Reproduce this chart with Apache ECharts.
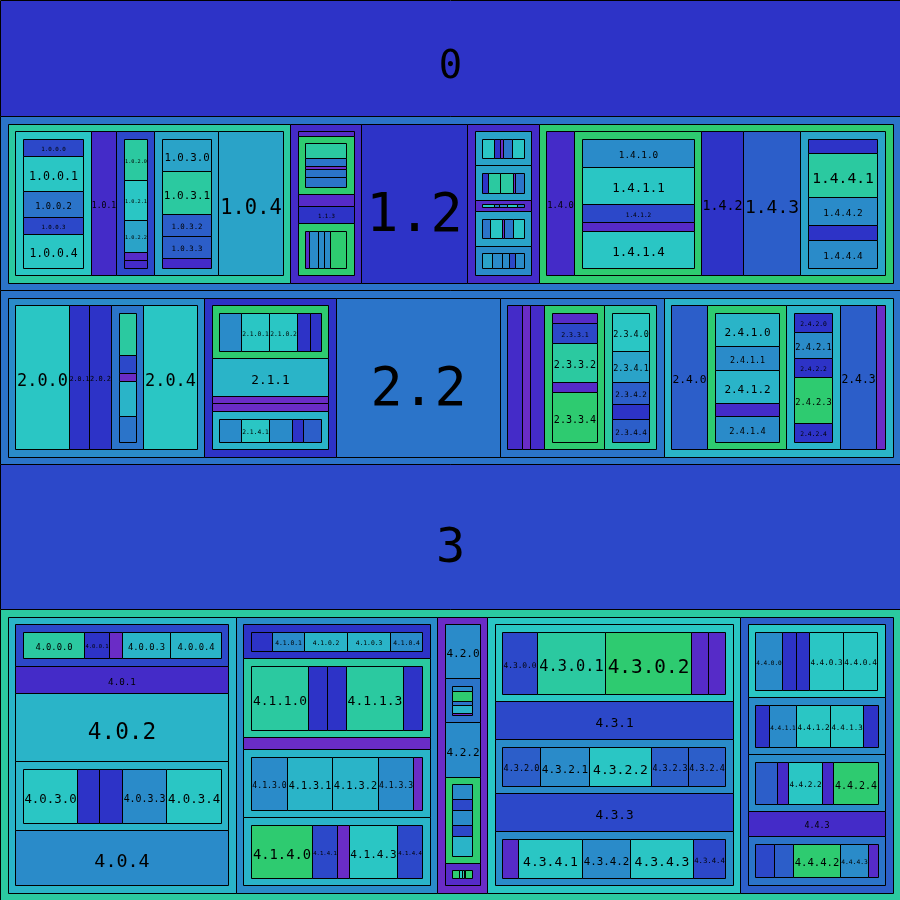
<!DOCTYPE html>
<html><head><meta charset="utf-8">
<script src="https://cdn.jsdelivr.net/npm/echarts@6/dist/echarts.min.js"></script>
<style>html,body{margin:0;padding:0;background:#fff}#chart{width:900px;height:900px}</style>
</head><body><div id="chart"></div>
<script>
// ---- DATA: leaf values; a number is a leaf, an array holds children 0..4 ----
const topNames = ['0', '1', '2', '3', '4'];
const tree0 = 12889;
const tree1 = [
  [[235.9, 469.1, 352.5, 230.5, 460.9], 591.4, [280.1, 273.3, 218.6, 54.7, 54.7], [365.3, 490.9, 251.2, 251.2, 114.2], 1495.8],
  [53.7, [204.7, 128.9, 38.7, 118.8, 134.6], 128.8, 182.5, [44.2, 133.9, 80.3, 80.3, 223.6]],
  2318.6,
  [[108.4, 52.9, 23.8, 76.7, 108.4], [47.7, 116.9, 119.6, 18.0, 75.6], [34.8, 14.1, 20.6, 29.1, 20.1], [74.7, 105.2, 18.0, 78.3, 101.6], [77.8, 75.6, 52.9, 47.6, 63.5]],
  [639.6, [629.7, 832.1, 404.8, 202.4, 832.1], 959.4, 1302.0, [216.7, 656.2, 421.4, 225.8, 421.4]]
];
const tree2 = [
  [1266.9, 488.7, 521.9, [251.1, 105.1, 46.7, 204.4, 151.8], 1266.9],
  [[228.5, 290.9, 290.9, 128.8, 114.3], 755.2, 139.1, 159.0, [163.9, 208.5, 167.6, 84.2, 131.1]],
  3582.6,
  [360.6, 192.3, 346.1, [113.5, 217.1, 440.8, 113.5, 547.7], [371.1, 300.4, 219.9, 148.2, 219.9]],
  [834.6, [470.8, 356.7, 470.8, 185.5, 370.9], [183.0, 260.0, 183.0, 443.0, 183.0], 843.9, 208.7]
];
const tree3 = 16111;
const tree4 = [
  [[413.0, 161.9, 86.6, 324.4, 335.7], 881.1, 2170.8, [610.6, 244.2, 248.7, 488.5, 610.6], 1755.8],
  [[118.4, 176.2, 240.6, 243.4, 179.5], [741.1, 245.3, 245.3, 748.9, 245.3], 338.1, [404.6, 500.1, 511.2, 400.1, 100.0], [682.4, 277.9, 133.4, 544.6, 277.9]],
  [377.4, [58.2, 98.8, 47.2, 81.3, 22.0], 380.2, [127.3, 95.9, 124.8, 95.9, 161.3], [54.2, 17.1, 17.1, 5.9, 59.4]],
  [[426.9, 829.5, 1049.0, 207.4, 212.2], 1344.8, [325.1, 419.2, 530.4, 316.5, 320.0], 1344.8, [136.9, 547.5, 410.6, 539.0, 277.2]],
  [[342.5, 177.6, 164.9, 431.4, 436.4], [138.7, 267.5, 336.8, 326.9, 142.7], [218.0, 109.0, 336.8, 109.0, 439.9], 531.8, [161.8, 161.8, 400.3, 238.4, 80.1]]
];
const topTrees = [tree0, tree1, tree2, tree3, tree4];

// ---- STYLE ----
const palette = ['#6a2cc6', '#562bc8', '#442bc8', '#2d33c7', '#2c48c9', '#2c5ec9', '#2b74c9',
  '#2a8bc9', '#2aa3c8', '#2ab4c8', '#2ac6c4', '#2bc9a0', '#2ecb70'];
const fillIndex = {
  '0': 3, '1': 6, '2': 6, '3': 4, '4': 11,
  '1.0': 11, '1.0.0': 10, '1.0.0.0': 4, '1.0.0.1': 10, '1.0.0.2': 6, '1.0.0.3': 4, '1.0.0.4': 10,
  '1.0.1': 2, '1.0.2': 4, '1.0.2.0': 11, '1.0.2.1': 10, '1.0.2.2': 8, '1.0.2.3': 1, '1.0.2.4': 2,
  '1.0.3': 8, '1.0.3.0': 8, '1.0.3.1': 11, '1.0.3.2': 5, '1.0.3.3': 5, '1.0.3.4': 2, '1.0.4': 8,
  '1.1': 2, '1.1.0': 1, '1.1.1': 12, '1.1.1.0': 11, '1.1.1.1': 6, '1.1.1.2': 0, '1.1.1.3': 6, '1.1.1.4': 6,
  '1.1.2': 1, '1.1.3': 3, '1.1.4': 12, '1.1.4.0': 1, '1.1.4.1': 7, '1.1.4.2': 7, '1.1.4.3': 7, '1.1.4.4': 12,
  '1.2': 3,
  '1.3': 2, '1.3.0': 8, '1.3.0.0': 10, '1.3.0.1': 3, '1.3.0.2': 0, '1.3.0.3': 6, '1.3.0.4': 10,
  '1.3.1': 8, '1.3.1.0': 3, '1.3.1.1': 11, '1.3.1.2': 11, '1.3.1.3': 0, '1.3.1.4': 6,
  '1.3.2': 1, '1.3.2.0': 10, '1.3.2.1': 6, '1.3.2.2': 7, '1.3.2.3': 10, '1.3.2.4': 6,
  '1.3.3': 8, '1.3.3.0': 6, '1.3.3.1': 10, '1.3.3.2': 0, '1.3.3.3': 6, '1.3.3.4': 10,
  '1.3.4': 7, '1.3.4.0': 8, '1.3.4.1': 7, '1.3.4.2': 7, '1.3.4.3': 4, '1.3.4.4': 7,
  '1.4': 12, '1.4.0': 2, '1.4.1': 12, '1.4.1.0': 7, '1.4.1.1': 10, '1.4.1.2': 4, '1.4.1.3': 1, '1.4.1.4': 10,
  '1.4.2': 3, '1.4.3': 5, '1.4.4': 8, '1.4.4.0': 3, '1.4.4.1': 11, '1.4.4.2': 7, '1.4.4.3': 3, '1.4.4.4': 7,
  '2.0': 7, '2.0.0': 10, '2.0.1': 3, '2.0.2': 3, '2.0.3': 6, '2.0.3.0': 11, '2.0.3.1': 4, '2.0.3.2': 0, '2.0.3.3': 9, '2.0.3.4': 6, '2.0.4': 10,
  '2.1': 3, '2.1.0': 12, '2.1.0.0': 7, '2.1.0.1': 10, '2.1.0.2': 10, '2.1.0.3': 3, '2.1.0.4': 3,
  '2.1.1': 9, '2.1.2': 0, '2.1.3': 0, '2.1.4': 9, '2.1.4.0': 7, '2.1.4.1': 10, '2.1.4.2': 7, '2.1.4.3': 3, '2.1.4.4': 5,
  '2.2': 6,
  '2.3': 6, '2.3.0': 2, '2.3.1': 0, '2.3.2': 2, '2.3.3': 12, '2.3.3.0': 1, '2.3.3.1': 4, '2.3.3.2': 11, '2.3.3.3': 1, '2.3.3.4': 12,
  '2.3.4': 11, '2.3.4.0': 10, '2.3.4.1': 8, '2.3.4.2': 5, '2.3.4.3': 3, '2.3.4.4': 5,
  '2.4': 9, '2.4.0': 5, '2.4.1': 12, '2.4.1.0': 9, '2.4.1.1': 7, '2.4.1.2': 9, '2.4.1.3': 2, '2.4.1.4': 7,
  '2.4.2': 9, '2.4.2.0': 3, '2.4.2.1': 7, '2.4.2.2': 3, '2.4.2.3': 12, '2.4.2.4': 3, '2.4.3': 5, '2.4.4': 0,
  '4.0': 9, '4.0.0': 4, '4.0.0.0': 11, '4.0.0.1': 3, '4.0.0.2': 0, '4.0.0.3': 9, '4.0.0.4': 9,
  '4.0.1': 2, '4.0.2': 9, '4.0.3': 9, '4.0.3.0': 10, '4.0.3.1': 3, '4.0.3.2': 3, '4.0.3.3': 7, '4.0.3.4': 10, '4.0.4': 7,
  '4.1': 7, '4.1.0': 3, '4.1.0.0': 3, '4.1.0.1': 7, '4.1.0.2': 9, '4.1.0.3': 9, '4.1.0.4': 7,
  '4.1.1': 11, '4.1.1.0': 11, '4.1.1.1': 3, '4.1.1.2': 3, '4.1.1.3': 11, '4.1.1.4': 3, '4.1.2': 0,
  '4.1.3': 9, '4.1.3.0': 7, '4.1.3.1': 9, '4.1.3.2': 9, '4.1.3.3': 7, '4.1.3.4': 0,
  '4.1.4': 9, '4.1.4.0': 12, '4.1.4.1': 4, '4.1.4.2': 0, '4.1.4.3': 10, '4.1.4.4': 4,
  '4.2': 0, '4.2.0': 7, '4.2.1': 6, '4.2.1.0': 7, '4.2.1.1': 12, '4.2.1.2': 6, '4.2.1.3': 9, '4.2.1.4': 0,
  '4.2.2': 7, '4.2.3': 12, '4.2.3.0': 7, '4.2.3.1': 4, '4.2.3.2': 7, '4.2.3.3': 4, '4.2.3.4': 9,
  '4.2.4': 1, '4.2.4.0': 12, '4.2.4.1': 10, '4.2.4.2': 11, '4.2.4.3': 10, '4.2.4.4': 12,
  '4.3': 10, '4.3.0': 10, '4.3.0.0': 4, '4.3.0.1': 11, '4.3.0.2': 12, '4.3.0.3': 1, '4.3.0.4': 1, '4.3.1': 4,
  '4.3.2': 7, '4.3.2.0': 5, '4.3.2.1': 7, '4.3.2.2': 10, '4.3.2.3': 5, '4.3.2.4': 5, '4.3.3': 4,
  '4.3.4': 7, '4.3.4.0': 1, '4.3.4.1': 10, '4.3.4.2': 7, '4.3.4.3': 10, '4.3.4.4': 4,
  '4.4': 5, '4.4.0': 10, '4.4.0.0': 7, '4.4.0.1': 3, '4.4.0.2': 3, '4.4.0.3': 10, '4.4.0.4': 10,
  '4.4.1': 7, '4.4.1.0': 3, '4.4.1.1': 7, '4.4.1.2': 10, '4.4.1.3': 10, '4.4.1.4': 3,
  '4.4.2': 7, '4.4.2.0': 5, '4.4.2.1': 2, '4.4.2.2': 10, '4.4.2.3': 2, '4.4.2.4': 12, '4.4.3': 2,
  '4.4.4': 6, '4.4.4.0': 4, '4.4.4.1': 5, '4.4.4.2': 12, '4.4.4.3': 7, '4.4.4.4': 1
};
const PAD = 7.5;

// ---- build hierarchy (parent value = sum of its leaves) ----
function build(name, spec) {
  if (typeof spec === 'number') return { name: name, value: spec };
  const children = spec.map(function (s, i) { return build(name + '.' + i, s); });
  return { name: name, children: children, value: children.reduce(function (a, c) { return a + c.value; }, 0) };
}
const roots = topTrees.map(function (t, i) { return build(topNames[i], t); });

// ---- slice layout along the longer side, nested with padding ----
const flat = [];
function place(nodes, x0, y0, x1, y1) {
  const total = nodes.reduce(function (a, n) { return a + n.value; }, 0);
  const horiz = (x1 - x0) > (y1 - y0);
  const len = horiz ? x1 - x0 : y1 - y0;
  let p = horiz ? x0 : y0;
  nodes.forEach(function (n) {
    const s = len * n.value / total;
    if (horiz) setRect(n, p, y0, p + s, y1); else setRect(n, x0, p, x1, p + s);
    p += s;
  });
}
function setRect(n, x0, y0, x1, y1) {
  n.r = [x0, y0, x1, y1];
  flat.push(n);
  if (n.children) {
    const px = Math.min(PAD, (x1 - x0) / 3), py = Math.min(PAD, (y1 - y0) / 3);
    place(n.children, x0 + px, y0 + py, x1 - px, y1 - py);
  }
}

const chart = echarts.init(document.getElementById('chart'), null, { renderer: 'canvas' });
place(roots, 0, 0, chart.getWidth(), chart.getHeight());

function renderItem(params, api) {
  const n = flat[params.dataIndex];
  const X0 = Math.round(n.r[0]), Y0 = Math.round(n.r[1]), X1 = Math.round(n.r[2]), Y1 = Math.round(n.r[3]);
  const els = [{
    type: 'rect',
    shape: { x: X0 + 0.5, y: Y0 + 0.5, width: X1 - X0, height: Y1 - Y0 },
    style: { fill: palette[fillIndex[n.name]], stroke: '#000', lineWidth: 1 }
  }];
  if (!n.children) {
    const w = n.r[2] - n.r[0], h = n.r[3] - n.r[1];
    const fs = Math.min(0.335 * h, 0.95 * w / (0.602 * n.name.length));
    if (fs >= 5.1) {
      els.push({
        type: 'text',
        style: {
          text: n.name, x: (X0 + X1) / 2 + 0.5, y: (Y0 + Y1) / 2 + 0.5 + 0.25 * fs,
          align: 'center', verticalAlign: 'middle', textAlign: 'center', textVerticalAlign: 'middle',
          font: fs.toFixed(2) + 'px "DejaVu Sans Mono"', fill: '#000'
        }
      });
    }
  }
  return { type: 'group', children: els };
}

chart.setOption({
  animation: false,
  series: [{
    type: 'custom',
    coordinateSystem: 'none',
    silent: true,
    renderItem: renderItem,
    data: flat.map(function (n) { return { name: n.name, value: n.value }; })
  }]
});
</script>
</body></html>
